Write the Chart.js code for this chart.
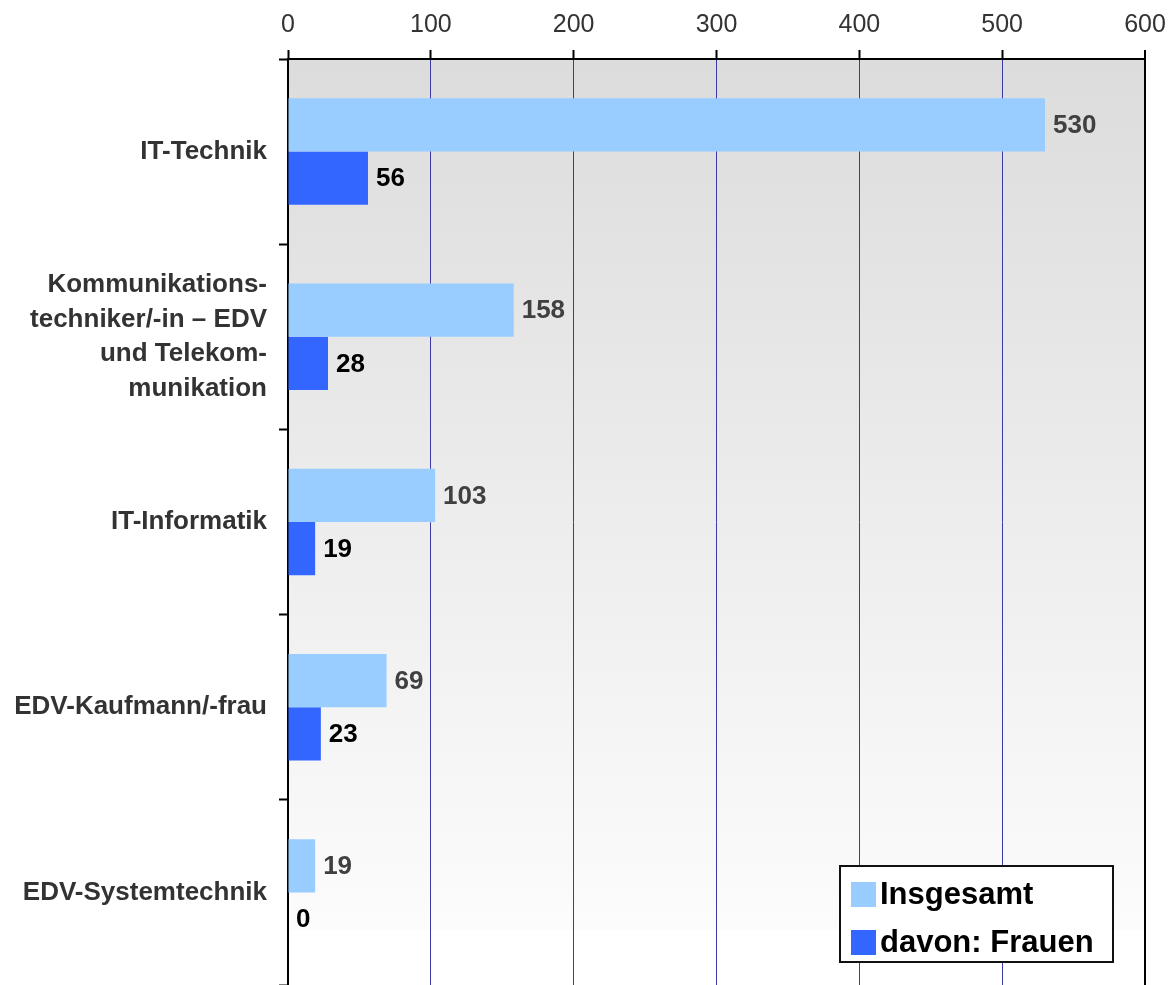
<!DOCTYPE html>
<html>
<head>
<meta charset="utf-8">
<script src="https://cdn.jsdelivr.net/npm/chart.js@4/dist/chart.umd.min.js"></script>
<style>
  html, body { margin: 0; padding: 0; background: #fff; }
  #wrap { width: 1176px; height: 985px; }
</style>
</head>
<body>
<div id="wrap"><canvas id="myChart"></canvas></div>
<script>
// Daten
const categories = [
  'IT-Technik',
  ['Kommunikations-', 'techniker/-in – EDV', 'und Telekom-', 'munikation'],
  'IT-Informatik',
  'EDV-Kaufmann/-frau',
  'EDV-Systemtechnik'
];
const insgesamt = [530, 158, 103, 69, 19];
const frauen = [56, 28, 19, 23, 0];
const xTicks = [0, 100, 200, 300, 400, 500, 600];

const FONT = '"Liberation Sans", Arial, Helvetica, sans-serif';

// Hintergrund mit Verlauf
const bgPlugin = {
  id: 'bgGradient',
  beforeDraw(chart) {
    const { ctx, chartArea: a } = chart;
    const g = ctx.createLinearGradient(0, a.top, 0, a.bottom);
    g.addColorStop(0, '#dcdcdc');
    g.addColorStop(0.94, '#fcfcfc');
    g.addColorStop(0.941, '#ffffff');
    g.addColorStop(1, '#ffffff');
    ctx.save();
    ctx.fillStyle = g;
    ctx.fillRect(a.left, a.top, a.right - a.left, a.bottom - a.top);
    ctx.restore();
  }
};

// Werte neben den Balken
const labelPlugin = {
  id: 'valueLabels',
  afterDatasetsDraw(chart) {
    const { ctx } = chart;
    ctx.save();
    ctx.font = 'bold 26px ' + FONT;
    ctx.textAlign = 'left';
    ctx.textBaseline = 'middle';
    chart.data.datasets.forEach((ds, i) => {
      const meta = chart.getDatasetMeta(i);
      ctx.fillStyle = i === 0 ? '#404040' : '#000000';
      meta.data.forEach((bar, j) => {
        ctx.fillText(String(ds.data[j]), bar.x + 8, bar.y + 1);
      });
    });
    ctx.restore();
  }
};

// Legende im Diagramm
const legendPlugin = {
  id: 'boxLegend',
  afterDraw(chart) {
    const { ctx } = chart;
    const x = 840, y = 866, w = 273, h = 96;
    ctx.save();
    ctx.fillStyle = '#ffffff';
    ctx.fillRect(x, y, w, h);
    ctx.strokeStyle = '#111';
    ctx.lineWidth = 2;
    ctx.strokeRect(x, y, w, h);
    ctx.font = 'bold 31px ' + FONT;
    ctx.textBaseline = 'middle';
    chart.data.datasets.forEach((ds, i) => {
      const ry = y + 28 + i * 48;
      ctx.fillStyle = ds.backgroundColor;
      ctx.fillRect(x + 11, ry - 12, 25, 25);
      ctx.fillStyle = '#000';
      ctx.fillText(ds.label, x + 40, ry + 1);
    });
    ctx.restore();
  }
};

const config = {
  type: 'bar',
  data: {
    labels: categories,
    datasets: [
      {
        label: 'Insgesamt',
        data: insgesamt,
        backgroundColor: '#99ccff',
        categoryPercentage: 0.575,
        barPercentage: 1
      },
      {
        label: 'davon: Frauen',
        data: frauen,
        backgroundColor: '#3366ff',
        categoryPercentage: 0.575,
        barPercentage: 1
      }
    ]
  },
  options: {
    indexAxis: 'y',
    responsive: true,
    maintainAspectRatio: false,
    animation: false,
    layout: { padding: { top: 0, right: 31, bottom: 0, left: 0 } },
    plugins: {
      legend: { display: false },
      tooltip: { enabled: false }
    },
    scales: {
      x: {
        position: 'top',
        min: 0,
        max: 600,
        afterBuildTicks(scale) {
          scale.ticks = xTicks.map(v => ({ value: v }));
        },
        ticks: {
          color: '#333',
          font: { family: FONT, size: 25 },
          padding: 10
        },
        grid: {
          color: ctx => (ctx.tick && ctx.tick.value === 600 ? '#000' : '#3a3aa8'),
          lineWidth: ctx => (ctx.tick && ctx.tick.value === 600 ? 2 : 1),
          tickColor: '#000',
          tickWidth: 2,
          tickLength: 9
        },
        border: { color: '#000', width: 2 }
      },
      y: {
        afterFit(scale) {
          scale.width = 288;
          scale.paddingTop = 0;
          scale.paddingBottom = 0;
        },
        ticks: {
          color: '#333',
          font: { family: FONT, size: 26, weight: 'bold', lineHeight: 1.33 },
          crossAlign: 'near',
          padding: 12,
          autoSkip: false
        },
        grid: {
          drawOnChartArea: false,
          tickColor: '#000',
          tickWidth: 2,
          tickLength: 9
        },
        border: { color: '#000', width: 2 }
      }
    }
  },
  plugins: [bgPlugin, labelPlugin, legendPlugin]
};

const myChart = new Chart(document.getElementById('myChart').getContext('2d'), config);
</script>
</body>
</html>
